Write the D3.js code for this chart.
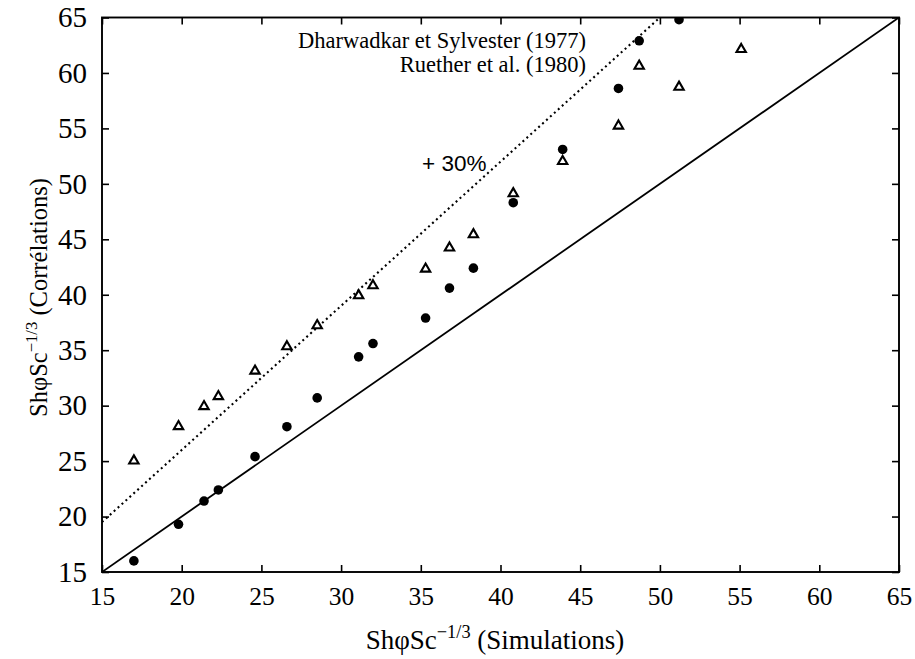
<!DOCTYPE html>
<html>
<head>
<meta charset="utf-8">
<script src="https://cdn.jsdelivr.net/npm/d3@7"></script>
<style>
  html, body { margin: 0; padding: 0; background: #fff; }
  svg { display: block; }
</style>
</head>
<body>
<svg id="chart" width="915" height="659"></svg>
<script>
// Simulated Sherwood group (x) against two correlations (y)
const simulations = [17.0, 19.8, 21.4, 22.3, 24.6, 26.6, 28.5, 31.1, 32.0, 35.3, 36.8, 38.3, 40.8, 43.9, 47.4, 48.7, 51.2, 55.1];
const dharwadkar  = [16.0, 19.3, 21.4, 22.4, 25.4, 28.1, 30.7, 34.4, 35.6, 37.9, 40.6, 42.4, 48.3, 53.1, 58.6, 62.9, 64.8, null];
const ruether     = [25.1, 28.2, 30.0, 30.9, 33.2, 35.4, 37.3, 40.0, 40.9, 42.4, 44.3, 45.5, 49.2, 52.1, 55.3, 60.7, 58.8, 62.2];
const tickValues  = [15, 20, 25, 30, 35, 40, 45, 50, 55, 60, 65];
const seriesNames = ["Dharwadkar et Sylvester (1977)", "Ruether et al. (1980)"];
const offsetLabel = "+ 30%";
const offsetFactor = 1.3;

const SERIF = "'Liberation Serif', 'Times New Roman', Times, serif";
const SANS = "'Liberation Sans', Arial, Helvetica, sans-serif";

const width = 915, height = 659;
const margin = { top: 17.5, right: 16, bottom: 87, left: 102 };
const innerW = width - margin.left - margin.right;
const innerH = height - margin.top - margin.bottom;

const svg = d3.select("#chart");
const x = d3.scaleLinear().domain([15, 65]).range([margin.left, margin.left + innerW]);
const y = d3.scaleLinear().domain([15, 65]).range([margin.top + innerH, margin.top]);

// clip so marks stay inside the frame
svg.append("clipPath").attr("id", "plot-clip")
  .append("rect")
  .attr("x", margin.left).attr("y", margin.top)
  .attr("width", innerW).attr("height", innerH);

const plot = svg.append("g").attr("clip-path", "url(#plot-clip)");

// y = x reference line
plot.append("line")
  .attr("x1", x(15)).attr("y1", y(15))
  .attr("x2", x(65)).attr("y2", y(65))
  .attr("stroke", "#000").attr("stroke-width", 1.8);

// y = 1.3 x line (+30 %)
const xEnd = 65 / offsetFactor;
plot.append("line")
  .attr("x1", x(15)).attr("y1", y(15 * offsetFactor))
  .attr("x2", x(xEnd)).attr("y2", y(65))
  .attr("stroke", "#000").attr("stroke-width", 2.1)
  .attr("stroke-dasharray", "2,3.3");

// axes with inward ticks on all four sides
const tickLen = 7;
const fmt = d3.format("d");
const axisBottom = d3.axisBottom(x).tickValues(tickValues).tickFormat(fmt).tickSizeInner(-tickLen).tickSizeOuter(0).tickPadding(15);
const axisLeft = d3.axisLeft(y).tickValues(tickValues).tickFormat(fmt).tickSizeInner(-tickLen).tickSizeOuter(0).tickPadding(15);
const axisTop = d3.axisTop(x).tickValues(tickValues).tickFormat("").tickSizeInner(-tickLen).tickSizeOuter(0);
const axisRight = d3.axisRight(y).tickValues(tickValues).tickFormat("").tickSizeInner(-tickLen).tickSizeOuter(0);

function styleAxis(size) {
  return g => {
    g.attr("font-family", null);
    g.select(".domain").remove();
    g.selectAll(".tick line").attr("stroke", "#000").attr("stroke-width", 1.6);
    g.selectAll(".tick text")
      .style("font-family", SERIF)
      .style("font-size", size + "px")
      .attr("fill", "#000");
  };
}

svg.append("g").attr("transform", `translate(0,${margin.top + innerH})`).call(axisBottom).call(styleAxis(25.5));
svg.append("g").attr("transform", `translate(${margin.left},0)`).call(axisLeft).call(styleAxis(29));
svg.append("g").attr("transform", `translate(0,${margin.top})`).call(axisTop).call(styleAxis(25));
svg.append("g").attr("transform", `translate(${margin.left + innerW},0)`).call(axisRight).call(styleAxis(25));

// frame
svg.append("rect")
  .attr("x", margin.left).attr("y", margin.top)
  .attr("width", innerW).attr("height", innerH)
  .attr("fill", "none").attr("stroke", "#000").attr("stroke-width", 1.9);

// Dharwadkar et Sylvester: filled circles
const dPts = simulations.map((s, i) => ({ s, v: dharwadkar[i] })).filter(d => d.v != null);
plot.selectAll("circle.dh").data(dPts).join("circle")
  .attr("class", "dh")
  .attr("cx", d => x(d.s)).attr("cy", d => y(d.v))
  .attr("r", 4.8).attr("fill", "#000");

// Ruether et al.: open triangles
const tri = d3.symbol().type(d3.symbolTriangle).size(38);
const rPts = simulations.map((s, i) => ({ s, v: ruether[i] })).filter(d => d.v != null);
plot.selectAll("path.ru").data(rPts).join("path")
  .attr("class", "ru")
  .attr("transform", d => `translate(${x(d.s)},${y(d.v) + 0.8})`)
  .attr("d", tri)
  .attr("fill", "#fff").attr("stroke", "#000").attr("stroke-width", 2.1);

// key entries (right-aligned text)
seriesNames.forEach((name, i) => {
  svg.append("text")
    .attr("x", 586).attr("y", 48 + i * 24)
    .attr("text-anchor", "end")
    .style("font-family", SERIF).style("font-size", "22.5px")
    .text(name);
});

// label of the dotted line
svg.append("text")
  .attr("x", 422).attr("y", 171)
  .style("font-family", SANS).style("font-size", "22.5px")
  .text(offsetLabel);

// axis titles
function title(size, tail) {
  return sel => {
    sel.style("font-family", SERIF).style("font-size", size + "px");
    sel.append("tspan").text("Sh\u03C6Sc");
    sel.append("tspan").attr("dy", -size * 0.42).style("font-size", (size * 0.68) + "px").text("\u22121/3");
    sel.append("tspan").attr("dy", size * 0.42).text(" " + tail);
  };
}

svg.append("text")
  .attr("x", 495).attr("y", 649)
  .attr("text-anchor", "middle")
  .call(title(27, "(Simulations)"));

svg.append("text")
  .attr("transform", `translate(47,297.5) rotate(-90)`)
  .attr("text-anchor", "middle")
  .call(title(24.5, "(Corrélations)"));
</script>
</body>
</html>
